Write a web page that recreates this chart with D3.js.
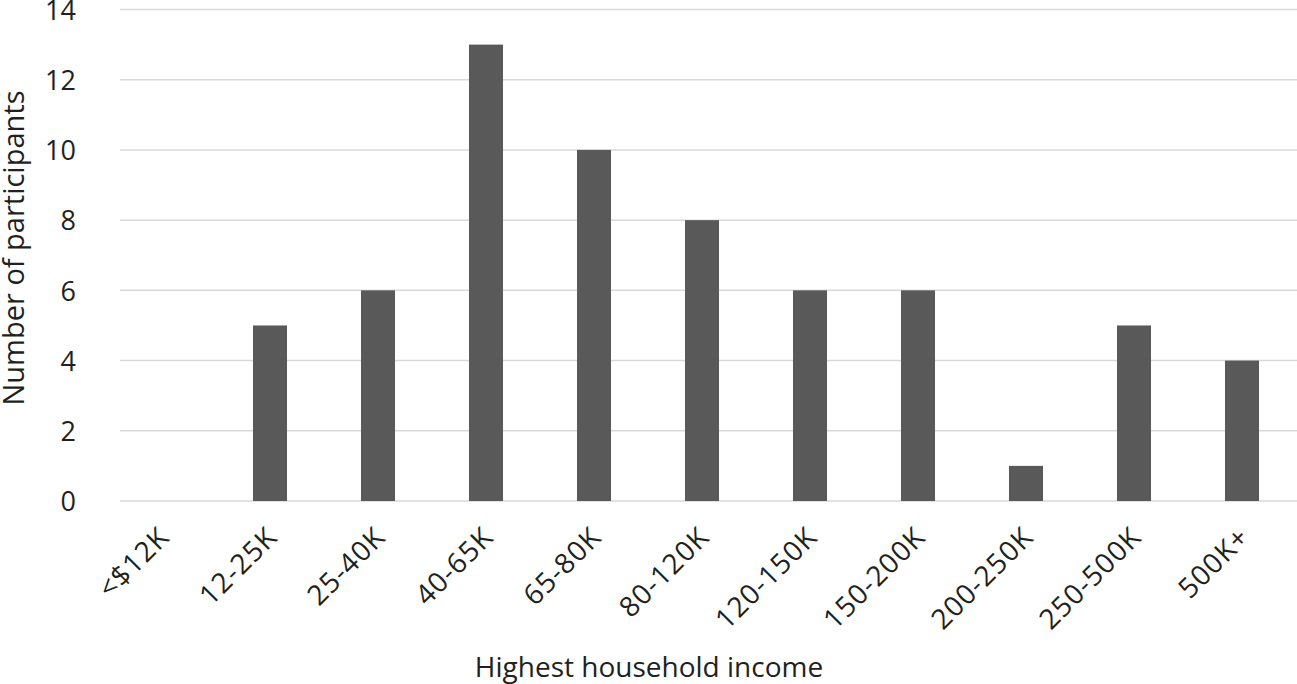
<!DOCTYPE html>
<html>
<head>
<meta charset="utf-8">
<script src="https://cdn.jsdelivr.net/npm/d3@7"></script>
<style>
  body { margin: 0; background: #fff; }
  text { font-family: "Open Sans", "Noto Sans", sans-serif; fill: #231f20; }
</style>
</head>
<body>
<svg id="chart" width="1297" height="684"></svg>
<script>
var categories = ["<$12K", "12-25K", "25-40K", "40-65K", "65-80K", "80-120K",
                  "120-150K", "150-200K", "200-250K", "250-500K", "500K+"];
var participants = [0, 5, 6, 13, 10, 8, 6, 6, 1, 5, 4];
var yTicks = [0, 2, 4, 6, 8, 10, 12, 14];

var svg = d3.select("#chart");
var width = 1297, height = 684;
var gridLeft = 120;

var x = d3.scaleBand()
    .domain(categories)
    .range([108, 1296])
    .paddingInner(0.685)
    .paddingOuter(0.3425);

var y = d3.scaleLinear()
    .domain([0, 14])
    .range([501, 9.5]);

// gridlines
svg.append("g")
    .selectAll("line")
    .data(yTicks)
    .enter().append("line")
    .attr("x1", gridLeft)
    .attr("x2", width)
    .attr("y1", function (d) { return y(d); })
    .attr("y2", function (d) { return y(d); })
    .style("stroke", "#d9d9d9")
    .style("stroke-width", "1.5px");

// bars
svg.append("g")
    .selectAll("rect")
    .data(participants)
    .enter().append("rect")
    .attr("x", function (d, i) { return x(categories[i]); })
    .attr("y", function (d) { return y(d); })
    .attr("width", x.bandwidth())
    .attr("height", function (d) { return y(0) - y(d); })
    .style("fill", "#595959");

// y axis labels
var yAxis = d3.axisLeft(y).tickValues(yTicks).tickSize(0).tickPadding(0);
var yg = svg.append("g")
    .attr("transform", "translate(76,0)")
    .call(yAxis);
yg.select(".domain").remove();
yg.selectAll("text")
    .style("font-size", "27px")
    .style("font-family", "'Open Sans', sans-serif")
    .attr("fill", "#231f20")
    .attr("dy", "0.36em");

// x axis labels, rotated
var xAxis = d3.axisBottom(x).tickSize(0).tickPadding(0);
var xg = svg.append("g")
    .attr("transform", "translate(0,501)")
    .call(xAxis);
xg.select(".domain").remove();
xg.selectAll("text")
    .style("font-size", "28px")
    .style("letter-spacing", "1px")
    .style("font-family", "'Open Sans', sans-serif")
    .attr("fill", "#231f20")
    .style("text-anchor", "end")
    .attr("dy", null)
    .attr("y", 0)
    .attr("transform", "translate(9,38) rotate(-45)");

// axis titles
svg.append("text")
    .attr("x", 649)
    .attr("y", 677)
    .attr("text-anchor", "middle")
    .style("font-size", "28px")
    .text("Highest household income");

svg.append("text")
    .attr("transform", "translate(24,248) rotate(-90)")
    .attr("text-anchor", "middle")
    .style("font-size", "29px")
    .text("Number of participants");
</script>
</body>
</html>
